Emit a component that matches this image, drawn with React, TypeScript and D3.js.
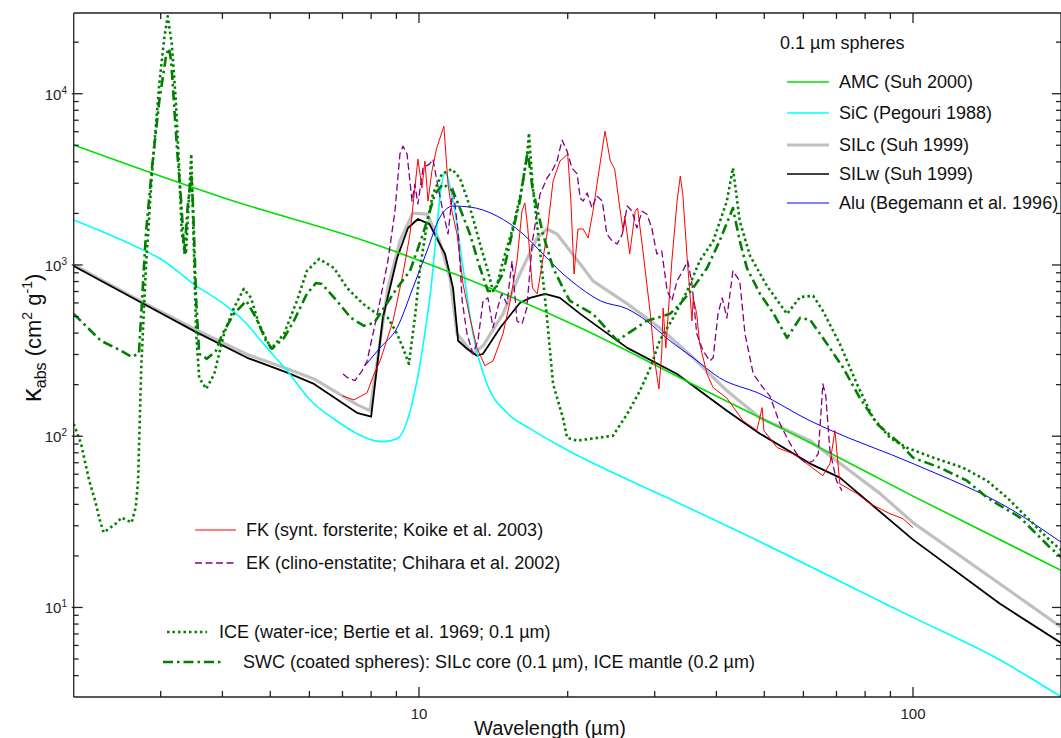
import React from "react";
import * as d3 from "d3";

type P = [number, number]; // [wavelength in µm, kappa in cm^2/g]

const AMC: P[] = [[2, 5010], [4.03, 2460], [8.11, 1325], [21.2, 430], [37, 192], [61.9, 91.6], [100, 44.7], [200, 16.4]];

const SIC: P[] = [
  [2, 1828], [2.71, 1256], [3, 1084], [3.54, 755], [4, 600], [4.42, 471], [4.92, 328], [5.41, 241],
  [6.04, 161], [6.73, 126], [7.49, 103.5], [8.11, 94.2], [8.45, 93], [9.03, 96.6], [9.91, 211],
  [10.5, 617], [11.29, 3436], [11.72, 2360], [12.28, 961], [12.86, 396], [13.73, 202], [15.07, 137],
  [16.78, 110.7], [19.56, 85.7], [26.7, 55.1], [32.7, 42.1], [42.7, 29.3], [100, 8.75], [147.9, 5.05], [200, 2.99],
];

const SILC: P[] = [
  [2, 1000], [2.75, 608], [3.5, 424], [4.49, 300], [5.41, 248], [6.13, 216], [7.49, 153], [7.96, 141],
  [8.65, 735], [9.15, 1380], [9.72, 2010], [10.38, 1983], [11, 1380], [11.56, 839], [11.94, 396],
  [12.86, 303], [13.48, 337], [14.79, 518], [16, 887], [17.34, 1436], [18.16, 1622], [19.03, 1517],
  [21.2, 1013], [22.5, 807], [26.4, 593], [30.7, 430], [35.9, 287], [42, 184], [49, 128], [61.9, 94],
  [85.8, 46.2], [100, 31.3], [200, 7.64],
];

const SILW: P[] = [
  [2, 987], [2.75, 600], [3.5, 412], [4.49, 287], [5.41, 235], [6.13, 202], [7.49, 137], [8, 130],
  [8.45, 491], [9.03, 1099], [9.5, 1644], [9.95, 1855], [10.5, 1733], [11.29, 1159], [11.72, 735],
  [12, 361], [12.51, 324], [13.1, 295], [13.48, 303], [14.6, 430], [16, 600], [16.78, 642], [18, 678],
  [19.29, 642], [21.2, 518], [26.4, 328], [33.3, 231], [42, 141], [49, 103.5], [61.9, 69.2],
  [71.1, 57.3], [100, 24.9], [150, 10.5], [200, 6.17],
];

const ALU: P[] = [
  [7.77, 258], [8.34, 328], [9.03, 430], [9.72, 735], [10.38, 1207], [11, 1879], [11.72, 2208],
  [12.68, 2179], [14.38, 1931], [16.24, 1517], [17.82, 1159], [19.56, 887], [21.2, 735], [23.3, 617],
  [26.4, 554], [28.9, 471], [32.2, 361], [35.9, 287], [40.6, 219], [49, 177], [61.9, 123], [67, 110.6],
  [100, 69.2], [159.4, 36.8], [200, 23.9],
];

const FK: P[] = [
  [7, 172], [7.38, 163], [7.85, 179], [8.11, 231], [8.34, 275], [8.86, 471], [9.28, 887], [9.59, 1517],
  [9.95, 4150], [10.14, 2810], [10.28, 4040], [10.43, 2360], [10.62, 3530], [10.86, 4810], [11.23, 6460],
  [11.45, 2970], [11.66, 2060], [11.94, 1517], [12.28, 774], [12.68, 491], [13.1, 328], [13.6, 258],
  [14.12, 275], [14.79, 396], [15.3, 617], [15.79, 1055], [16.16, 2060], [16.38, 2300], [16.6, 1645],
  [16.97, 735], [17.35, 678], [18.16, 1517], [18.68, 3090], [19.29, 4040], [20, 4440], [20.3, 2360],
  [20.6, 887], [20.98, 1622], [21.5, 1622], [22, 1436], [22.5, 2060], [23.3, 4040], [23.8, 6040],
  [24.4, 4040], [24.9, 3630], [25.5, 2150], [25.9, 1580], [26.1, 1930], [26.7, 1159], [27.4, 2060],
  [27.7, 2150], [28.4, 1207], [29.4, 518], [30, 275], [30.6, 189], [31, 303], [31.2, 561], [31.6, 328],
  [32.5, 1055], [33.3, 2360], [33.8, 3300], [34.2, 2590], [34.9, 1099], [35.7, 471], [35.9, 643],
  [36.5, 518], [37, 346], [38.3, 231], [39.4, 192], [42, 167], [45.3, 123], [48.3, 108], [49.5, 147],
  [49.9, 108], [53.1, 85.7], [57.1, 79.1], [59.1, 74], [65.7, 58.8], [67.9, 69.2], [69.5, 108],
  [71.1, 52.8], [77, 46.2], [81.8, 40.4], [89.8, 35.3], [95.4, 33], [100, 29.3],
];

const EK: P[] = [
  [7.02, 231], [7.18, 219], [7.42, 211], [7.67, 241], [7.85, 275], [8.07, 396], [8.34, 617], [8.65, 1055],
  [8.94, 2060], [9.15, 4440], [9.28, 4940], [9.46, 4440], [9.68, 2360], [9.81, 2960], [9.95, 2270],
  [10.19, 3680], [10.5, 3880], [10.67, 4150], [10.9, 2970], [11.18, 2060], [11.45, 1517], [11.72, 2810],
  [12, 1580], [12.23, 617], [12.51, 396], [12.86, 303], [13.16, 361], [13.48, 617], [13.79, 643],
  [14.12, 430], [14.38, 540], [14.7, 678], [15.07, 592], [15.43, 1055], [15.79, 471], [16.16, 452],
  [16.53, 561], [16.97, 1380], [17.58, 2590], [18.16, 3210], [18.58, 3530], [19.03, 4040], [19.48, 5360],
  [19.94, 4620], [20.4, 3680], [20.9, 3400], [21.2, 2460], [21.5, 2360], [21.9, 2630], [22.4, 2150],
  [22.9, 2530], [23.5, 2360], [24, 1517], [24.6, 1380], [25.2, 1325], [25.8, 1517], [26.4, 2210],
  [27, 2060], [27.6, 1645], [28.3, 2060], [28.9, 1983], [29.6, 1645], [30.3, 1159], [31, 1207],
  [31.8, 705], [32.5, 617], [33.3, 807], [34.2, 923], [35, 1055], [35.7, 774], [36.5, 396], [37.6, 315],
  [38.8, 275], [39.4, 287], [40.3, 518], [41.1, 643], [42, 490], [43.2, 923], [44.6, 807], [45.7, 396],
  [47.5, 231], [49.7, 192], [51.3, 172], [53.8, 118], [56.4, 90.4], [59.1, 74], [61, 69.2], [62.8, 71.9],
  [64.3, 79], [65.7, 202], [66.6, 172], [67.9, 82.3], [70, 55], [71.8, 48.1],
];

const ICE: P[] = [
  [2, 118], [2.07, 90.4], [2.15, 55], [2.21, 42.1], [2.26, 32.1], [2.3, 27.4], [2.45, 31.3], [2.5, 33.5],
  [2.62, 31.3], [2.67, 38.3], [2.7, 55], [2.74, 251], [2.8, 961], [2.88, 3400], [2.98, 11350],
  [3.05, 21100], [3.1, 28300], [3.16, 19400], [3.22, 9040], [3.27, 3680], [3.31, 1517], [3.375, 1159],
  [3.46, 4440], [3.54, 396], [3.59, 219], [3.71, 189], [3.85, 231], [4.03, 396], [4.22, 561], [4.42, 725],
  [4.57, 643], [4.74, 453], [5.02, 324], [5.33, 396], [5.66, 617], [5.93, 923], [6.28, 1084], [6.73, 960],
  [7.15, 735], [7.7, 593], [8.22, 518], [8.65, 491], [9.03, 396], [9.28, 328], [9.54, 265], [9.81, 491],
  [10.05, 961], [10.38, 1733], [10.67, 2590], [11.13, 3400], [11.66, 3630], [12.1, 3210], [12.51, 2460],
  [12.86, 1880], [13.29, 1325], [13.73, 961], [14.12, 705], [14.38, 755], [14.79, 1055], [15.43, 1580],
  [16, 2460], [16.53, 4200], [16.7, 5890], [16.97, 2970], [17.58, 1207], [18.16, 491], [18.68, 202],
  [19.56, 128], [19.94, 98], [20.9, 94.2], [24.7, 100.7], [26.4, 135], [28, 184], [29.4, 251],
  [30.7, 361], [32.7, 491], [34.9, 705], [37, 1055], [39.4, 1380], [42, 2360], [43.2, 3680], [44.6, 1805],
  [46.8, 1128], [50.6, 755], [55.6, 518], [59.1, 650], [62.8, 660], [65.7, 540], [71.1, 346], [77, 202],
  [83, 128], [89.8, 98], [97.2, 85.7], [109.8, 75], [126.2, 65.5], [141.2, 55], [155, 43.8],
  [164.7, 36.8], [189.4, 24.6], [200, 21.5],
];

const SWC: P[] = [
  [2, 518], [2.27, 361], [2.45, 324], [2.62, 291], [2.71, 303], [2.75, 617], [2.8, 1517], [2.88, 3680],
  [2.98, 9040], [3.08, 17000], [3.12, 18400], [3.15, 15500], [3.19, 9040], [3.24, 4620], [3.3, 2360],
  [3.35, 1159], [3.4, 2150], [3.46, 3400], [3.49, 2150], [3.54, 617], [3.59, 303], [3.72, 283],
  [3.88, 315], [4, 396], [4.22, 518], [4.47, 617], [4.68, 491], [4.9, 361], [5.04, 324], [5.33, 375],
  [5.58, 471], [5.93, 678], [6.19, 785], [6.36, 774], [6.82, 617], [7.28, 491], [7.74, 441], [8.11, 459],
  [8.34, 518], [9.03, 735], [9.59, 923], [10.19, 1517], [10.77, 2590], [11.18, 2970], [11.72, 2700],
  [12.23, 1983], [12.68, 1517], [13.29, 961], [13.79, 705], [14.12, 705], [14.79, 887], [15.43, 1517],
  [16, 2360], [16.6, 4620], [16.97, 2810], [17.82, 1517], [18.68, 961], [19.56, 735], [20.2, 617],
  [22.5, 518], [25.2, 361], [26.4, 396], [28.9, 471], [32.2, 518], [33.8, 593], [35.9, 735], [38.3, 961],
  [40.6, 1380], [43.2, 2150], [44.6, 1380], [46.1, 961], [49, 678], [52.1, 525], [55.6, 375], [59.1, 491],
  [61.9, 478], [67, 346], [72.2, 251], [78.1, 167], [84.6, 118], [94.1, 90.4], [100, 75], [113.4, 65.5],
  [128.6, 55], [141.2, 43.8], [164.7, 33.5], [189.4, 22.4], [200, 19.6],
];

const X_TICKS = [10, 100];
const Y_TICKS = [10, 100, 1000, 10000];
const Y_EXP = ["1", "2", "3", "4"];

const FONT = "'Liberation Sans', Arial, Helvetica, sans-serif";
const GREEN = "#007f00";

// smooth = drawn with a monotone curve (the smooth model spectra)
const series = [
  { id: "silc", data: SILC, color: "#c0c0c0", width: 3.2, dash: undefined as string | undefined, smooth: false },
  { id: "silw", data: SILW, color: "#000000", width: 1.8, dash: undefined, smooth: false },
  { id: "sic", data: SIC, color: "#00ffff", width: 1.6, dash: undefined, smooth: true },
  { id: "amc", data: AMC, color: "#00e000", width: 1.6, dash: undefined, smooth: true },
  { id: "alu", data: ALU, color: "#0000ff", width: 1, dash: undefined, smooth: true },
  { id: "fk", data: FK, color: "#ff0000", width: 1, dash: undefined, smooth: false },
  { id: "ek", data: EK, color: "#800080", width: 1.3, dash: "7,3.5", smooth: false },
  { id: "ice", data: ICE, color: GREEN, width: 2.6, dash: "2.5,3", smooth: false },
  { id: "swc", data: SWC, color: GREEN, width: 2.6, dash: "10,4,2.5,4", smooth: false },
];

const topLegend = [
  { label: "AMC (Suh 2000)", color: "#00e000", width: 1.6, y: 82 },
  { label: "SiC (Pegouri 1988)", color: "#00ffff", width: 1.6, y: 113 },
  { label: "SILc (Suh 1999)", color: "#c0c0c0", width: 3.2, y: 145 },
  { label: "SILw (Suh 1999)", color: "#000000", width: 1.6, y: 174 },
  { label: "Alu (Begemann et al. 1996)", color: "#0000ff", width: 1, y: 203 },
];

const bottomLegend = [
  { label: "FK (synt. forsterite; Koike et al. 2003)", color: "#ff0000", width: 1, dash: undefined as string | undefined, x1: 195, x2: 236, tx: 246, y: 530 },
  { label: "EK (clino-enstatite; Chihara et al. 2002)", color: "#800080", width: 1.3, dash: "7,3.5", x1: 195, x2: 236, tx: 246, y: 563 },
  { label: "ICE (water-ice; Bertie et al. 1969; 0.1 µm)", color: GREEN, width: 2.6, dash: "2.5,3", x1: 167, x2: 207, tx: 219, y: 632 },
  { label: "SWC (coated spheres): SILc core (0.1 µm), ICE mantle (0.2 µm)", color: GREEN, width: 2.6, dash: "10,4,2.5,4", x1: 163, x2: 222, tx: 243, y: 662 },
];

export default function App() {
  const W = 1061;
  const H = 738;
  const x = d3.scaleLog().domain([2, 200]).range([73.7, 1061.7]);
  const y = d3.scaleLog().domain([3, 30000]).range([697, 12]);
  const [x0, x1] = [73.7, 1061];
  const [y0, y1] = [697, 13];

  const line = d3
    .line<P>()
    .x((d) => x(d[0]))
    .y((d) => y(d[1]));
  const smoothLine = d3
    .line<P>()
    .x((d) => x(d[0]))
    .y((d) => y(d[1]))
    .curve(d3.curveMonotoneX);

  const xMinor: number[] = [];
  for (const dec of [1, 10, 100]) for (let k = 2; k <= 9; k++) {
    const v = dec * k;
    if (v > 2 && v < 200) xMinor.push(v);
  }
  const yMinor: number[] = [];
  for (const dec of [1, 10, 100, 1000, 10000]) for (let k = 2; k <= 9; k++) {
    const v = dec * k;
    if (v > 3 && v < 30000) yMinor.push(v);
  }

  return (
    <svg
      width={W}
      height={H}
      style={{ position: "absolute", left: 0, top: 0, background: "#fff" }}
      fontFamily={FONT}
    >
      <defs>
        <clipPath id="plot">
          <rect x={x0} y={y1} width={x1 - x0} height={y0 - y1} />
        </clipPath>
      </defs>

      {/* curves */}
      <g clipPath="url(#plot)" fill="none" strokeLinejoin="round">
        {series.map((s) => (
          <path
            key={s.id}
            d={(s.smooth ? smoothLine(s.data) : line(s.data)) ?? ""}
            stroke={s.color}
            strokeWidth={s.width}
            strokeDasharray={s.dash}
          />
        ))}
      </g>

      {/* frame */}
      <g stroke="#222" strokeWidth={1.3} fill="none">
        <line x1={x0} x2={x1} y1={y0} y2={y0} />
        <line x1={x0} x2={x1} y1={y1} y2={y1} />
        <line x1={x0} x2={x0} y1={y0} y2={y1} />
        <line x1={x1} x2={x1} y1={y0} y2={y1} />
        {X_TICKS.map((t) => (
          <g key={"xt" + t}>
            <line x1={x(t)} x2={x(t)} y1={y0} y2={y0 - 10} />
            <line x1={x(t)} x2={x(t)} y1={y1} y2={y1 + 10} />
          </g>
        ))}
        {xMinor.map((t) => (
          <g key={"xm" + t}>
            <line x1={x(t)} x2={x(t)} y1={y0} y2={y0 - 6} />
            <line x1={x(t)} x2={x(t)} y1={y1} y2={y1 + 6} />
          </g>
        ))}
        {Y_TICKS.map((t) => (
          <g key={"yt" + t}>
            <line x1={x0 - 2} x2={x0 + 9} y1={y(t)} y2={y(t)} />
            <line x1={x1} x2={x1 - 9} y1={y(t)} y2={y(t)} />
          </g>
        ))}
        {yMinor.map((t) => (
          <g key={"ym" + t}>
            <line x1={x0} x2={x0 + 5} y1={y(t)} y2={y(t)} />
            <line x1={x1} x2={x1 - 5} y1={y(t)} y2={y(t)} />
          </g>
        ))}
      </g>

      {/* tick labels */}
      <g fill="#222">
        {X_TICKS.map((t) => (
          <text key={"xl" + t} x={x(t)} y={719} fontSize={15} textAnchor="middle">
            {t}
          </text>
        ))}
        {Y_TICKS.map((t, i) => (
          <text key={"yl" + t} x={67} y={y(t) + 6} fontSize={15} textAnchor="end">
            10
            <tspan fontSize={10} dy={-6}>
              {Y_EXP[i]}
            </tspan>
          </text>
        ))}
      </g>

      {/* axis titles */}
      <text x={550} y={735} fontSize={20} textAnchor="middle" fill="#111">
        Wavelength (µm)
      </text>
      <text transform="translate(41,338) rotate(-90)" fontSize={22} textAnchor="middle" fill="#111">
        <tspan fontSize={28}>κ</tspan>
        <tspan fontSize={16} dy={5}>abs</tspan>
        <tspan dy={-5}> (cm</tspan>
        <tspan fontSize={14} dy={-9}>2</tspan>
        <tspan dy={9}> g</tspan>
        <tspan fontSize={14} dy={-9}>-1</tspan>
        <tspan dy={9}>)</tspan>
      </text>

      {/* top-right legend */}
      <g fontSize={18} fill="#111">
        <text x={780} y={49}>0.1 µm spheres</text>
        {topLegend.map((l) => (
          <g key={l.label}>
            <line x1={787} x2={829} y1={l.y} y2={l.y} stroke={l.color} strokeWidth={l.width} />
            <text x={839} y={l.y + 6}>{l.label}</text>
          </g>
        ))}
      </g>

      {/* bottom-left legend */}
      <g fontSize={18} fill="#111">
        {bottomLegend.map((l) => (
          <g key={l.label}>
            <line
              x1={l.x1}
              x2={l.x2}
              y1={l.y}
              y2={l.y}
              stroke={l.color}
              strokeWidth={l.width}
              strokeDasharray={l.dash}
            />
            <text x={l.tx} y={l.y + 6}>{l.label}</text>
          </g>
        ))}
      </g>
    </svg>
  );
}
